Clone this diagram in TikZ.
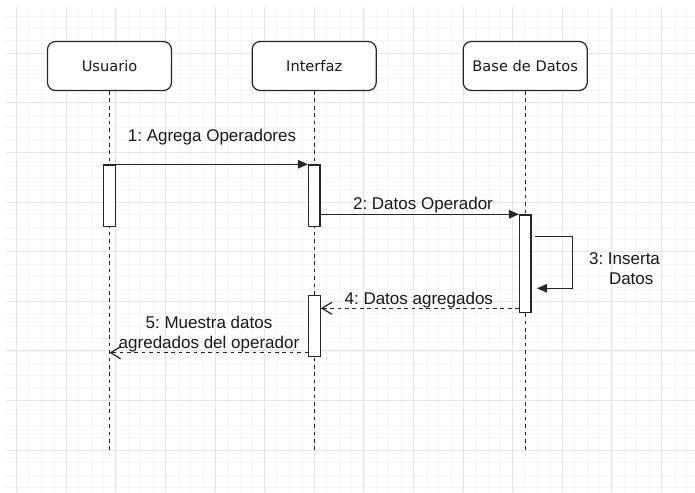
\documentclass[tikz,border=0pt]{standalone}
\usepackage{fontspec}
\setmainfont{Liberation Sans}
\newfontfamily\boxfont{DejaVu Sans}
\usetikzlibrary{arrows.meta,calc}
\frenchspacing

\definecolor{gridminor}{RGB}{245,245,245}
\definecolor{gridmajor}{RGB}{229,229,229}
\definecolor{ink}{RGB}{38,38,38}

\tikzset{
  participant/.style={draw=ink, line width=1.2pt, fill=white, rounded corners=8pt,
    minimum width=124pt, minimum height=49pt, inner sep=0pt, text=black!90,
    font=\boxfont\fontsize{14.6}{17}\selectfont},
  lifeline/.style={draw=ink, line width=1.2pt, dash pattern=on 3.7pt off 3.7pt},
  activation/.style={draw=ink, line width=1.2pt, fill=white, minimum width=11.4pt, inner sep=0pt},
  call/.style={draw=ink, line width=1.2pt, -{Triangle[length=10pt,width=8.5pt]}},
  reply/.style={draw=ink, line width=1.2pt, dash pattern=on 3.7pt off 3.7pt,
    -{Straight Barb[length=10pt,width=12pt]}},
  msglabel/.style={font=\fontsize{17}{19.4}\selectfont, inner sep=0pt, align=center, text=black!90},
}

\begin{document}
\begin{tikzpicture}[x=1pt,y=-1pt]
\useasboundingbox (0,0) rectangle (695,492);
\fill[white] (0,0) rectangle (695,492);

% background grid: fine lines every 12.4, heavier every 49.6
\foreach \i in {0,...,54}
  \draw[gridminor, line width=0.8pt] ({16.7+12.4*\i},7) -- ({16.7+12.4*\i},492);
\foreach \j in {1,...,39}
  \draw[gridminor, line width=0.8pt] (6,{3.7+12.4*\j}) -- (695,{3.7+12.4*\j});
\foreach \i in {0,...,13}
  \draw[gridmajor, line width=1pt] ({16.7+49.6*\i},7) -- ({16.7+49.6*\i},492);
\foreach \j in {1,...,9}
  \draw[gridmajor, line width=1pt] (6,{3.7+49.6*\j}) -- (695,{3.7+49.6*\j});

% participants
\node[participant] (usr) at (109.5,66) {Usuario};
\node[participant] (ui)  at (314.2,66) {Interfaz};
\node[participant] (db)  at (525.2,66) {Base de Datos};

% lifelines
\coordinate (usrEnd) at (109.5,450);
\coordinate (uiEnd)  at (314.2,450);
\coordinate (dbEnd)  at (525.2,450);
\draw[lifeline] (usr.south) -- (usrEnd);
\draw[lifeline] (ui.south) -- (uiEnd);
\draw[lifeline] (db.south) -- (dbEnd);

% activation bars
\node[activation, minimum height=61.8pt] (actUsr) at (109.4,195.8) {};
\node[activation, minimum height=61.2pt] (actUi1) at (314.2,195.5) {};
\node[activation, minimum height=61.1pt] (actUi2) at (314.5,326.2) {};
\node[activation, minimum height=97.8pt] (actDb)  at (525.2,263.8) {};

% message rows
\coordinate (rowSelfOut) at (0,236.7);
\coordinate (rowSelfIn)  at (0,288.3);
\coordinate (rowFour)    at (0,308.3);
\coordinate (rowFive)    at (0,352.7);

% messages
\draw[call] (actUsr.north east) -- (actUi1.north west);
\draw[call] (actUi1.east |- actDb.north) -- (actDb.north west);
\draw[call] ($(actDb.east |- rowSelfOut)+(3,0)$) -- ++(38.3,0) |- ($(actDb.east |- rowSelfIn)+(5.5,0)$);
\draw[reply] (actDb.west |- rowFour) -- (actUi2.east |- rowFour);
\draw[reply] (actUi2.west |- rowFive) -- (usr.south |- rowFive);

% message labels
\node[msglabel, anchor=base]  (lblOne)   at (212,141.7) {1: Agrega Operadores};
\node[msglabel, anchor=base]  (lblTwo)   at (423,209.3) {2: Datos Operador};
\node[msglabel, anchor=north] (lblThree) at (624.5,252.8) {3: Inserta\\\hspace*{13.4pt}Datos};
\node[msglabel, anchor=base]  (lblFour)  at (418.8,304) {4: Datos agregados};
\node[msglabel, anchor=north] (lblFive)  at (209,316.2) {5: Muestra datos\\agredados del operador};
\end{tikzpicture}
\end{document}
